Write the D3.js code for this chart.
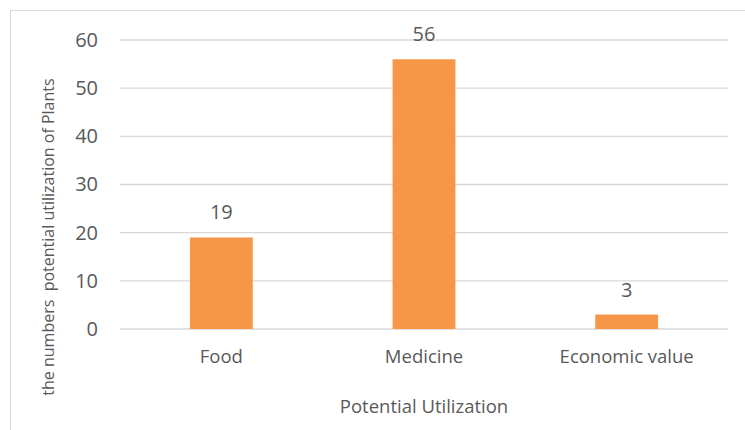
<!DOCTYPE html>
<html>
<head>
<meta charset="utf-8">
<script src="https://cdn.jsdelivr.net/npm/d3@7"></script>
<style>
  body { margin: 0; background: #fff; }
  text { font-family: "Open Sans", "Noto Sans", sans-serif; fill: #595959; }
</style>
</head>
<body>
<svg id="chart" width="745" height="430"></svg>
<script>
// chart data
var categories = ["Food", "Medicine", "Economic value"];
var counts = [19, 56, 3];
var yTicks = [0, 10, 20, 30, 40, 50, 60];

var svg = d3.select("#chart");
var margin = { left: 120, right: 17, top: 40, bottom: 101 };
var width = 745 - margin.left - margin.right;
var height = 430 - margin.top - margin.bottom;

// outer frame of the chart area
svg.append("rect")
    .attr("x", 10.5).attr("y", 10.5)
    .attr("width", 745).attr("height", 430)
    .attr("fill", "none")
    .attr("stroke", "#d9d9d9");

var g = svg.append("g")
    .attr("transform", "translate(" + margin.left + "," + margin.top + ")");

var x = d3.scaleBand()
    .domain(categories)
    .range([0, width])
    .paddingInner(0.69)
    .paddingOuter(0.345);

var y = d3.scaleLinear()
    .domain([0, 60])
    .range([height, 0]);

// gridlines
g.selectAll(".grid")
    .data(yTicks)
  .enter().append("line")
    .attr("class", "grid")
    .attr("x1", 0).attr("x2", width)
    .attr("y1", function(d) { return y(d); })
    .attr("y2", function(d) { return y(d); })
    .attr("stroke", "#d9d9d9")
    .attr("stroke-width", 1.3);

// y axis labels
var yAxis = g.append("g")
    .call(d3.axisLeft(y).tickValues(yTicks).tickSize(0).tickPadding(22));
yAxis.select(".domain").remove();
yAxis.selectAll("text").style("font-size", "20px").attr("fill", "#595959");

// x axis labels, baseline placed by hand
var xAxis = g.append("g")
    .attr("transform", "translate(0," + height + ")")
    .call(d3.axisBottom(x).tickSize(0));
xAxis.select(".domain").remove();
xAxis.selectAll("text")
    .attr("y", 34).attr("dy", 0)
    .style("font-size", "18.5px").attr("fill", "#595959");

// bars
g.selectAll(".bar")
    .data(counts)
  .enter().append("rect")
    .attr("class", "bar")
    .attr("x", function(d, i) { return x(categories[i]); })
    .attr("width", x.bandwidth())
    .attr("y", function(d) { return y(d); })
    .attr("height", function(d) { return height - y(d); })
    .attr("fill", "#f79646");

// value labels above bars
g.selectAll(".val")
    .data(counts)
  .enter().append("text")
    .attr("class", "val")
    .attr("x", function(d, i) { return x(categories[i]) + x.bandwidth() / 2; })
    .attr("y", function(d) { return y(d) - 18; })
    .attr("text-anchor", "middle")
    .style("font-size", "20px")
    .text(function(d) { return d; });

// axis titles
svg.append("text")
    .attr("x", margin.left + width / 2)
    .attr("y", 413)
    .attr("text-anchor", "middle")
    .style("font-size", "18.5px")
    .text("Potential Utilization");

svg.append("text")
    .attr("transform", "translate(54,237) rotate(-90)")
    .attr("text-anchor", "middle")
    .style("font-size", "16px")
    .style("white-space", "pre")
    .text("the numbers  potential utilization of Plants");
</script>
</body>
</html>
